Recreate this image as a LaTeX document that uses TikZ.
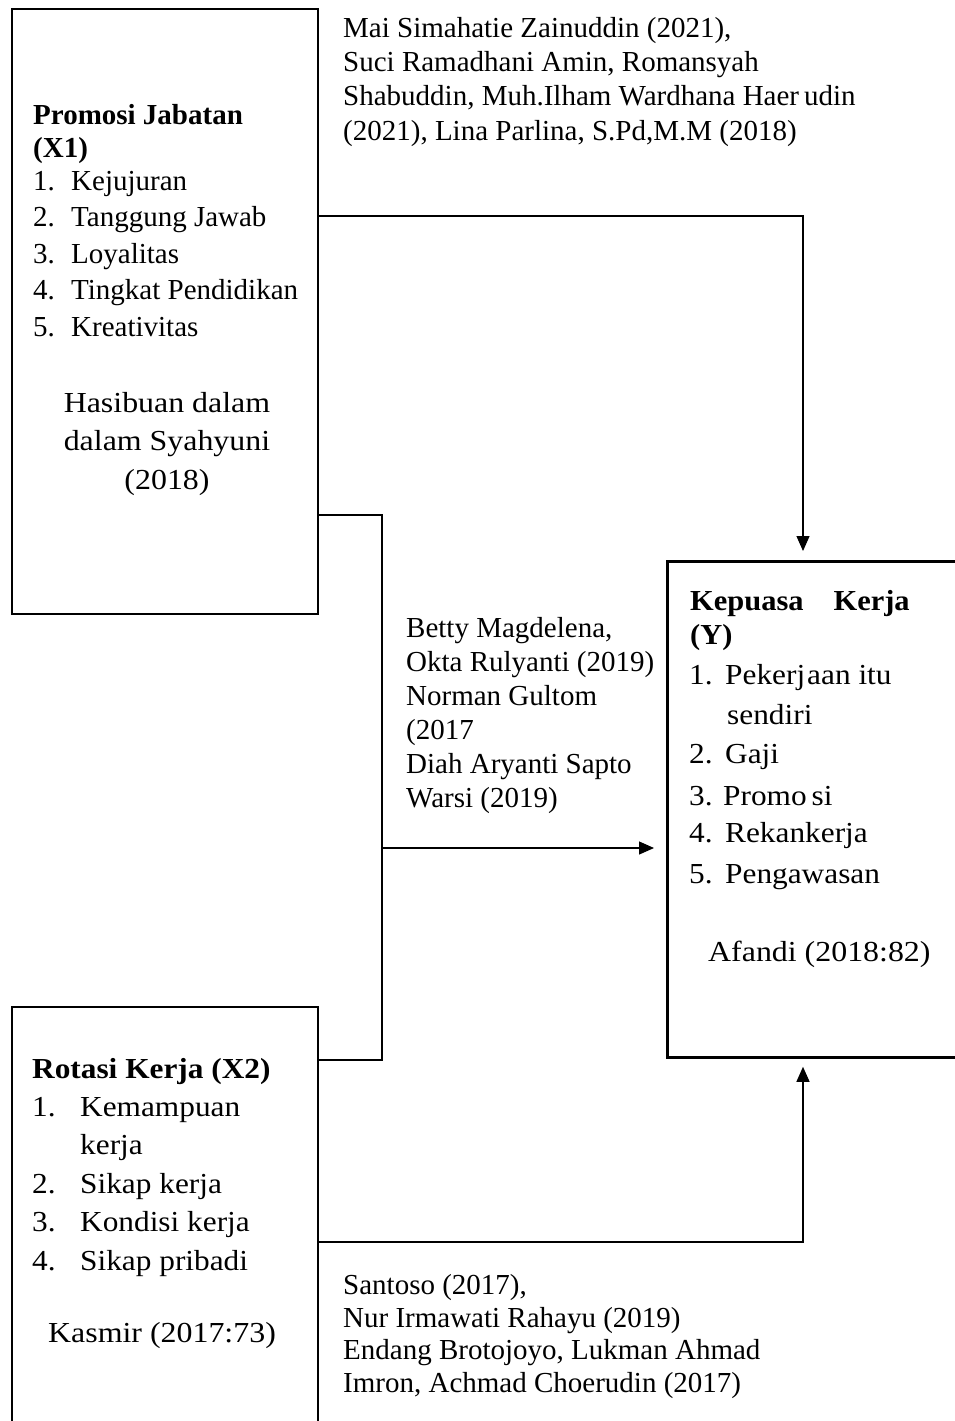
\documentclass[tikz,border=0pt]{standalone}
\usepackage{fontspec}
\setmainfont{Liberation Serif}
\usetikzlibrary{arrows.meta}
\tikzset{
  varbox/.style={
    draw, line width=2.2pt, anchor=north west, inner sep=0pt
  },
  reftext/.style={
    anchor=base west, inner sep=0pt, align=left,
    font=\fontsize{29}{34}\selectfont
  },
  headtext/.style={
    anchor=base west, inner sep=0pt, align=left,
    font=\bfseries\fontsize{29}{33}\selectfont
  },
  connection/.style={
    draw, line width=1.3pt
  },
  arrowline/.style={
    connection, -{Triangle[length=15pt, width=13pt]}
  }
}
\newcommand{\nr}[2]{\makebox[#1][l]{#2}}
\newcommand{\wide}[1]{\addfontfeatures{FakeStretch=#1}}

\begin{document}
\begin{tikzpicture}[x=1pt, y=-1pt]
        \useasboundingbox (0,0) rectangle (955,1421);

        % variable boxes
        \node[varbox, minimum width=306pt, minimum height=605pt] (promosi) at (11,8) {};
        \node[varbox, line width=2.8pt, minimum width=300pt, minimum height=496pt] (kepuasan) at (666,560) {};
        \node[varbox, minimum width=306pt, minimum height=440pt] (rotasi) at (11,1006) {};

        % X1 (base = last line)
        \node[headtext] (headX1) at (33,157) {Promosi Jabatan\\(X1)};
        \node[reftext, font=\fontsize{29}{36.5}\selectfont] (itemsX1) at (33,336)
          {\nr{38pt}{1.}Kejujuran\\\nr{38pt}{2.}Tanggung Jawab\\\nr{38pt}{3.}Loyalitas\\
           \nr{38pt}{4.}Tingkat Pendidikan\\\nr{38pt}{5.}Kreativitas};
        \node[reftext, anchor=base, align=center, font=\fontsize{29}{38.5}\selectfont\wide{1.1}] (citeX1) at (167,489)
          {Hasibuan dalam\\dalam Syahyuni\\(2018)};

        % Y
        \node[headtext, font=\bfseries\fontsize{29}{34}\selectfont\wide{1.05}] (headY) at (690,644) {Kepuasa\hspace{30pt}Kerja\\(Y)};
        \node[reftext, font=\fontsize{29}{38}\selectfont\wide{1.08}] (itemsY) at (689,883)
          {\nr{36pt}{1.}Pekerj\hspace{2pt}aan itu\\[2pt]\nr{38pt}{}sendiri\\[1pt]\nr{36pt}{2.}Gaji\\[4pt]
           \nr{34pt}{3.}Promo\hspace{5pt}si\\[-1pt]\nr{36pt}{4.}Rekankerja\\[3pt]\nr{36pt}{5.}Pengawasan};
        \node[reftext, font=\fontsize{29}{34}\selectfont\wide{1.1}] (citeY) at (708,961) {Afandi (2018:82)};

        % X2
        \node[headtext, font=\bfseries\fontsize{29}{33}\selectfont\wide{1.08}] (headX2) at (32,1078) {Rotasi Kerja (X2)};
        \node[reftext, font=\fontsize{29}{38.5}\selectfont\wide{1.08}] (itemsX2) at (32,1270)
          {\nr{48pt}{1.}Kemampuan\\\nr{48pt}{}kerja\\\nr{48pt}{2.}Sikap kerja\\
           \nr{48pt}{3.}Kondisi kerja\\\nr{48pt}{4.}Sikap pribadi};
        \node[reftext, font=\fontsize{29}{34}\selectfont\wide{1.1}] (citeX2) at (48,1342) {Kasmir (2017:73)};

        % references
        \node[reftext, font=\fontsize{29}{34.3}\selectfont] (refX1) at (343,140)
          {Mai Simahatie Zainuddin (2021),\\Suci Ramadhani Amin, Romansyah\\
           Shabuddin, Muh.Ilham Wardhana Haer\hspace{5pt}udin\\(2021), Lina Parlina, S.Pd,M.M (2018)};
        \node[reftext] (refmid) at (406,807)
          {Betty Magdelena,\\Okta Rulyanti (2019)\\Norman Gultom\\(2017\\Diah Aryanti Sapto\\Warsi (2019)};
        \node[reftext, font=\fontsize{29}{32.5}\selectfont] (refX2) at (343,1392)
          {Santoso (2017),\\Nur Irmawati Rahayu (2019)\\Endang Brotojoyo, Lukman Ahmad\\Imron, Achmad Choerudin (2017)};

        % connections
        \coordinate (c1) at (803,216);
        \coordinate (j1) at (382,515);
        \coordinate (j2) at (382,1060);
        \coordinate (jm) at (382,848);
        \coordinate (c2) at (803,1242);

        \draw[arrowline, shorten >=9pt] (promosi.east |- c1) -- (c1) -- (c1 |- kepuasan.north);
        \draw[connection] (promosi.east |- j1) -- (j1) -- (j2) -- (rotasi.east |- j2);
        \draw[arrowline, shorten >=12pt] (jm) -- (kepuasan.west |- jm);
        \draw[arrowline, shorten >=8pt] (rotasi.east |- c2) -- (c2) -- (c2 |- kepuasan.south);
      \end{tikzpicture}
\end{document}
